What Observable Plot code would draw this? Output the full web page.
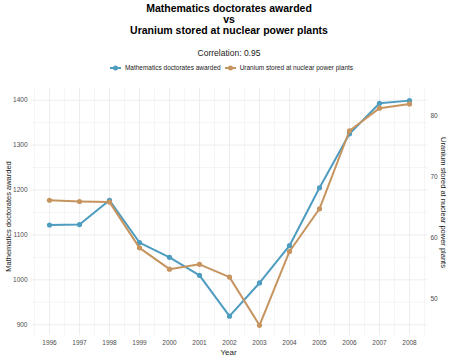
<!DOCTYPE html>
<html>
<head>
<meta charset="utf-8">
<script src="https://cdn.jsdelivr.net/npm/d3@7"></script>
<script src="https://cdn.jsdelivr.net/npm/@observablehq/plot@0.6"></script>
<style>
  html, body { margin: 0; padding: 0; background: #fff; overflow: hidden; }
  body { width: 450px; height: 360px; font-family: "Liberation Sans", Arial, Helvetica, sans-serif; }
  #header { position: relative; width: 450px; height: 80px; }
  .t { position: absolute; left: 0; width: 458px; text-align: center; white-space: nowrap; }
  #title { top: 2.5px; font-size: 10.5px; line-height: 11px; font-weight: bold; color: #000; }
  #subtitle { top: 48.8px; font-size: 8.5px; line-height: 1; color: #1a1a1a; }
  #legend { position: absolute; top: 64px; left: 0; width: 463px; display: flex; justify-content: center; align-items: center; font-size: 6.5px; line-height: 1; color: #1a1a1a; }
  .item { display: flex; align-items: center; margin: 0 2px; }
  .item svg { margin-right: 4px; }
</style>
</head>
<body>
<div id="header">
  <div id="title" class="t">Mathematics doctorates awarded<br>vs<br>Uranium stored at nuclear power plants</div>
  <div id="subtitle" class="t">Correlation: 0.95</div>
  <div id="legend"></div>
</div>
<div id="chart"></div>
<script>
const years = [1996, 1997, 1998, 1999, 2000, 2001, 2002, 2003, 2004, 2005, 2006, 2007, 2008];
const mathDoctorates = [1122, 1123, 1177, 1083, 1050, 1010, 919, 993, 1076, 1205, 1325, 1393, 1399];
const uranium = [66.1, 65.9, 65.8, 58.3, 54.8, 55.6, 53.5, 45.6, 57.7, 64.7, 77.5, 81.2, 81.9];
const leftTicks = [900, 1000, 1100, 1200, 1300, 1400];
const rightTicks = [50, 60, 70, 80];
const seriesNames = ["Mathematics doctorates awarded", "Uranium stored at nuclear power plants"];
const colors = ["#4e9cc0", "#c6945f"];

// secondary-axis transform: uranium -> left-axis units
const toLeft = v => 1365.9 + (v - 80) * 13.58;

const mathData = years.map((y, i) => ({year: y, value: mathDoctorates[i]}));
const uraData = years.map((y, i) => ({year: y, value: toLeft(uranium[i])}));

const majorX = years;
const minorX = years.map(y => y - 0.5).concat([2008.5]);
const minorY = [950, 1050, 1150, 1250, 1350];

// legend
const legend = document.getElementById("legend");
seriesNames.forEach((name, i) => {
  const item = document.createElement("div");
  item.className = "item";
  item.innerHTML = `<svg width="11" height="8"><line x1="0" x2="11" y1="4" y2="4" stroke="${colors[i]}" stroke-width="2"/><circle cx="5.5" cy="4" r="2.5" fill="${colors[i]}"/></svg><span>${name}</span>`;
  legend.appendChild(item);
});

const grid = "#ebebeb";
const chart = Plot.plot({
  width: 450,
  height: 280,
  marginTop: 8,
  marginBottom: 25,
  marginLeft: 31,
  marginRight: 23,
  style: {fontFamily: "Liberation Sans, Arial, sans-serif", background: "#fff", overflow: "visible"},
  x: {domain: [1995.4, 2008.6], axis: null},
  y: {domain: [876, 1426], axis: null},
  marks: [
    Plot.ruleX(minorX, {stroke: grid, strokeWidth: 0.5}),
    Plot.ruleX(majorX, {stroke: grid, strokeWidth: 0.9}),
    Plot.ruleY(minorY, {stroke: grid, strokeWidth: 0.5}),
    Plot.ruleY(leftTicks, {stroke: grid, strokeWidth: 0.9}),
    Plot.axisX(years, {anchor: "bottom", tickSize: 0, tickPadding: 4.5, fontSize: 6.5, fill: "#4d4d4d", tickFormat: d => String(d), label: null}),
    Plot.axisY(leftTicks, {anchor: "left", tickSize: 0, tickPadding: 4, fontSize: 6.5, fill: "#4d4d4d", tickFormat: d => String(d), label: null}),
    Plot.text(rightTicks, {y: d => toLeft(d), frameAnchor: "right", text: d => String(d), textAnchor: "start", dx: 3, fontSize: 6.5, fill: "#4d4d4d"}),
    Plot.text(["Year"], {frameAnchor: "bottom", lineAnchor: "middle", textAnchor: "middle", dy: 17, dx: -1, fontSize: 8, fill: "#1a1a1a"}),
    Plot.text([seriesNames[0]], {frameAnchor: "left", textAnchor: "middle", lineAnchor: "middle", rotate: -90, dx: -23, dy: 4.5, fontSize: 7.5, fill: "#1a1a1a"}),
    Plot.text([seriesNames[1]], {frameAnchor: "right", textAnchor: "middle", lineAnchor: "middle", rotate: 90, dx: 15.5, dy: -9.5, fontSize: 7.5, fill: "#1a1a1a"}),
    Plot.line(mathData, {x: "year", y: "value", stroke: colors[0], strokeWidth: 2}),
    Plot.dot(mathData, {x: "year", y: "value", r: 2.6, fill: colors[0]}),
    Plot.line(uraData, {x: "year", y: "value", stroke: colors[1], strokeWidth: 2}),
    Plot.dot(uraData, {x: "year", y: "value", r: 2.6, fill: colors[1]})
  ]
});
document.getElementById("chart").appendChild(chart);
</script>
</body>
</html>
